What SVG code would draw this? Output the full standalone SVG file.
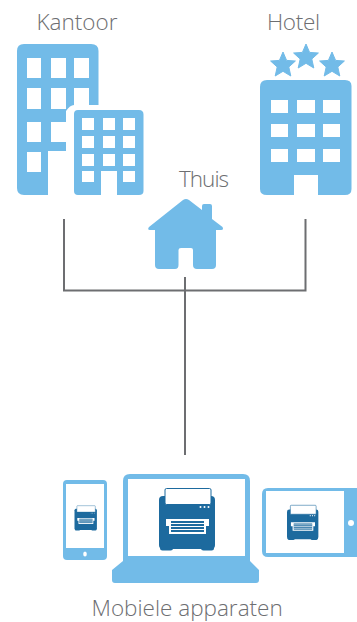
<svg xmlns="http://www.w3.org/2000/svg" width="357" height="622" viewBox="0 0 357 622">
<style>
.b{fill:#72bbe8}
.w{fill:#fff}
.d{fill:#1d6a9e}
.t{font-family:"Open Sans","Noto Sans",sans-serif;font-weight:300;font-size:22.500px;fill:#6d6e71}
.l{fill:none;stroke:#6d6e71;stroke-width:2}
</style>
<defs>
<path id="star" d="M0,-13 L3.6,-4.6 L12.4,-4 L5.8,2 L7.8,11 L0,6.3 L-7.8,11 L-5.8,2 L-12.4,-4 L-3.6,-4.6Z" fill="#72bbe8" stroke="#72bbe8" stroke-linejoin="round" stroke-width="1"/>
<g id="printer">
<rect class="d" x="0" y="8" width="56" height="53" rx="4"/>
<rect class="d" x="1" y="57" width="13" height="5.500" rx="2.500"/>
<rect class="d" x="42" y="57" width="13" height="5.500" rx="2.500"/>
<rect x="6" y="0.500" width="46" height="16" rx="1.500" class="w" stroke="#1d6a9e" stroke-width="1"/>
<circle class="w" cx="41.500" cy="19" r="1"/><circle class="w" cx="45.500" cy="19" r="1"/><circle class="w" cx="49.500" cy="19" r="1"/>
<path class="w" d="M7,31H50V38H47V46H10V38H7Z"/>
<rect class="d" x="12" y="33" width="33" height="11"/>
<path d="M12,35.500H45M12,38.500H45M12,41.500H45" stroke="#fff" stroke-width="1.200"/>
</g>
</defs>

<g id="connectors">
<path class="l" d="M64,219V290.500H305.500V219M185,277V455"/>
</g>

<g id="kantoor">
<text class="t" x="36.500" y="30">Kantoor</text>
<path class="b" d="M24,44H91Q98.500,44 98.500,51V105H89V88H74V105Q70,105 66,111V151H48V195H24Q17,195 17,188V51Q17,44 24,44Z"/>
<g class="w">
<rect x="27" y="58" width="14" height="20"/><rect x="51" y="58" width="15" height="20"/><rect x="74" y="58" width="15" height="20"/>
<rect x="27" y="88" width="14" height="21"/><rect x="51" y="88" width="15" height="21"/>
<rect x="27" y="122" width="14" height="20"/><rect x="51" y="122" width="15" height="20"/>
<rect x="27" y="152" width="14" height="20"/>
</g>
<path class="b" d="M78,110H139Q143.500,110 143.500,114.500V191Q143.500,195 139,195H117V171H101V195H78Q74,195 74,191V114Q74,110 78,110Z"/>
<g class="w">
<rect x="82" y="118" width="12" height="12"/><rect x="103" y="118" width="12" height="12"/><rect x="123" y="118" width="12" height="12"/>
<rect x="82" y="136" width="12" height="12"/><rect x="103" y="136" width="12" height="12"/><rect x="123" y="136" width="12" height="12"/>
<rect x="82" y="154" width="12" height="12"/><rect x="103" y="154" width="12" height="12"/><rect x="123" y="154" width="12" height="12"/>
<rect x="82" y="171" width="12" height="11"/><rect x="123" y="171" width="12" height="11"/>
</g>
</g>

<g id="hotel">
<text class="t" x="267" y="29.500" textLength="53">Hotel</text>
<use href="#star" x="283" y="65"/><use href="#star" x="306" y="57"/><use href="#star" x="332" y="65"/>
<path class="b" d="M267,80H345Q351.500,80 351.500,86V189Q351.500,195 345,195H318V175H294V195H267Q260,195 260,189V87Q260,80 267,80Z"/>
<g class="w">
<rect x="271" y="100" width="17" height="13"/><rect x="297" y="100" width="18" height="13"/><rect x="323" y="100" width="17" height="13"/>
<rect x="271" y="124" width="17" height="13"/><rect x="297" y="124" width="18" height="13"/><rect x="323" y="124" width="17" height="13"/>
<rect x="271" y="149" width="17" height="13"/><rect x="297" y="149" width="18" height="13"/><rect x="323" y="149" width="17" height="13"/>
</g>
</g>

<g id="thuis">
<text class="t" x="179" y="186.500" textLength="50">Thuis</text>
<path class="b" d="M183,200Q186,198 189,200L202,210V206Q202,204 204,204H210Q212,204 212,206V219L222.500,227Q224,230 221,230H216V265Q216,269 212,269H197Q193,269 193,265V250Q193,248 191,248H181Q178.500,248 178.500,250V265Q178.500,269 175,269H159Q155,269 155,265V230H150Q147,230 149,227Z"/>
</g>

<g id="mobiele-apparaten">
<g id="phone">
<rect class="b" x="63" y="480" width="44" height="80" rx="4"/>
<rect class="w" x="66" y="484" width="38" height="64"/>
<ellipse class="w" cx="85" cy="554" rx="1.800" ry="2.500"/>
<use href="#printer" transform="translate(74.500,505.500) scale(0.400)"/>
</g>
<g id="laptop">
<path class="b" d="M130,474H243Q250,474 250,481V561L259,570V580Q259,583 256,583H115Q112,583 112,580V570L123,561V481Q123,474 130,474Z"/>
<rect class="w" x="128" y="479" width="117" height="77"/>
<use href="#printer" transform="translate(159,488)"/>
</g>
<g id="tablet">
<path class="b" d="M268,488H357V557H268Q262,557 262,551V494Q262,488 268,488Z"/>
<rect class="w" x="266" y="491" width="78" height="62"/>
<circle class="w" cx="351" cy="523" r="3"/>
<use href="#printer" transform="translate(287,505) scale(0.560)"/>
</g>
<text class="t" x="91.500" y="615.500">Mobiele apparaten</text>
</g>
</svg>
